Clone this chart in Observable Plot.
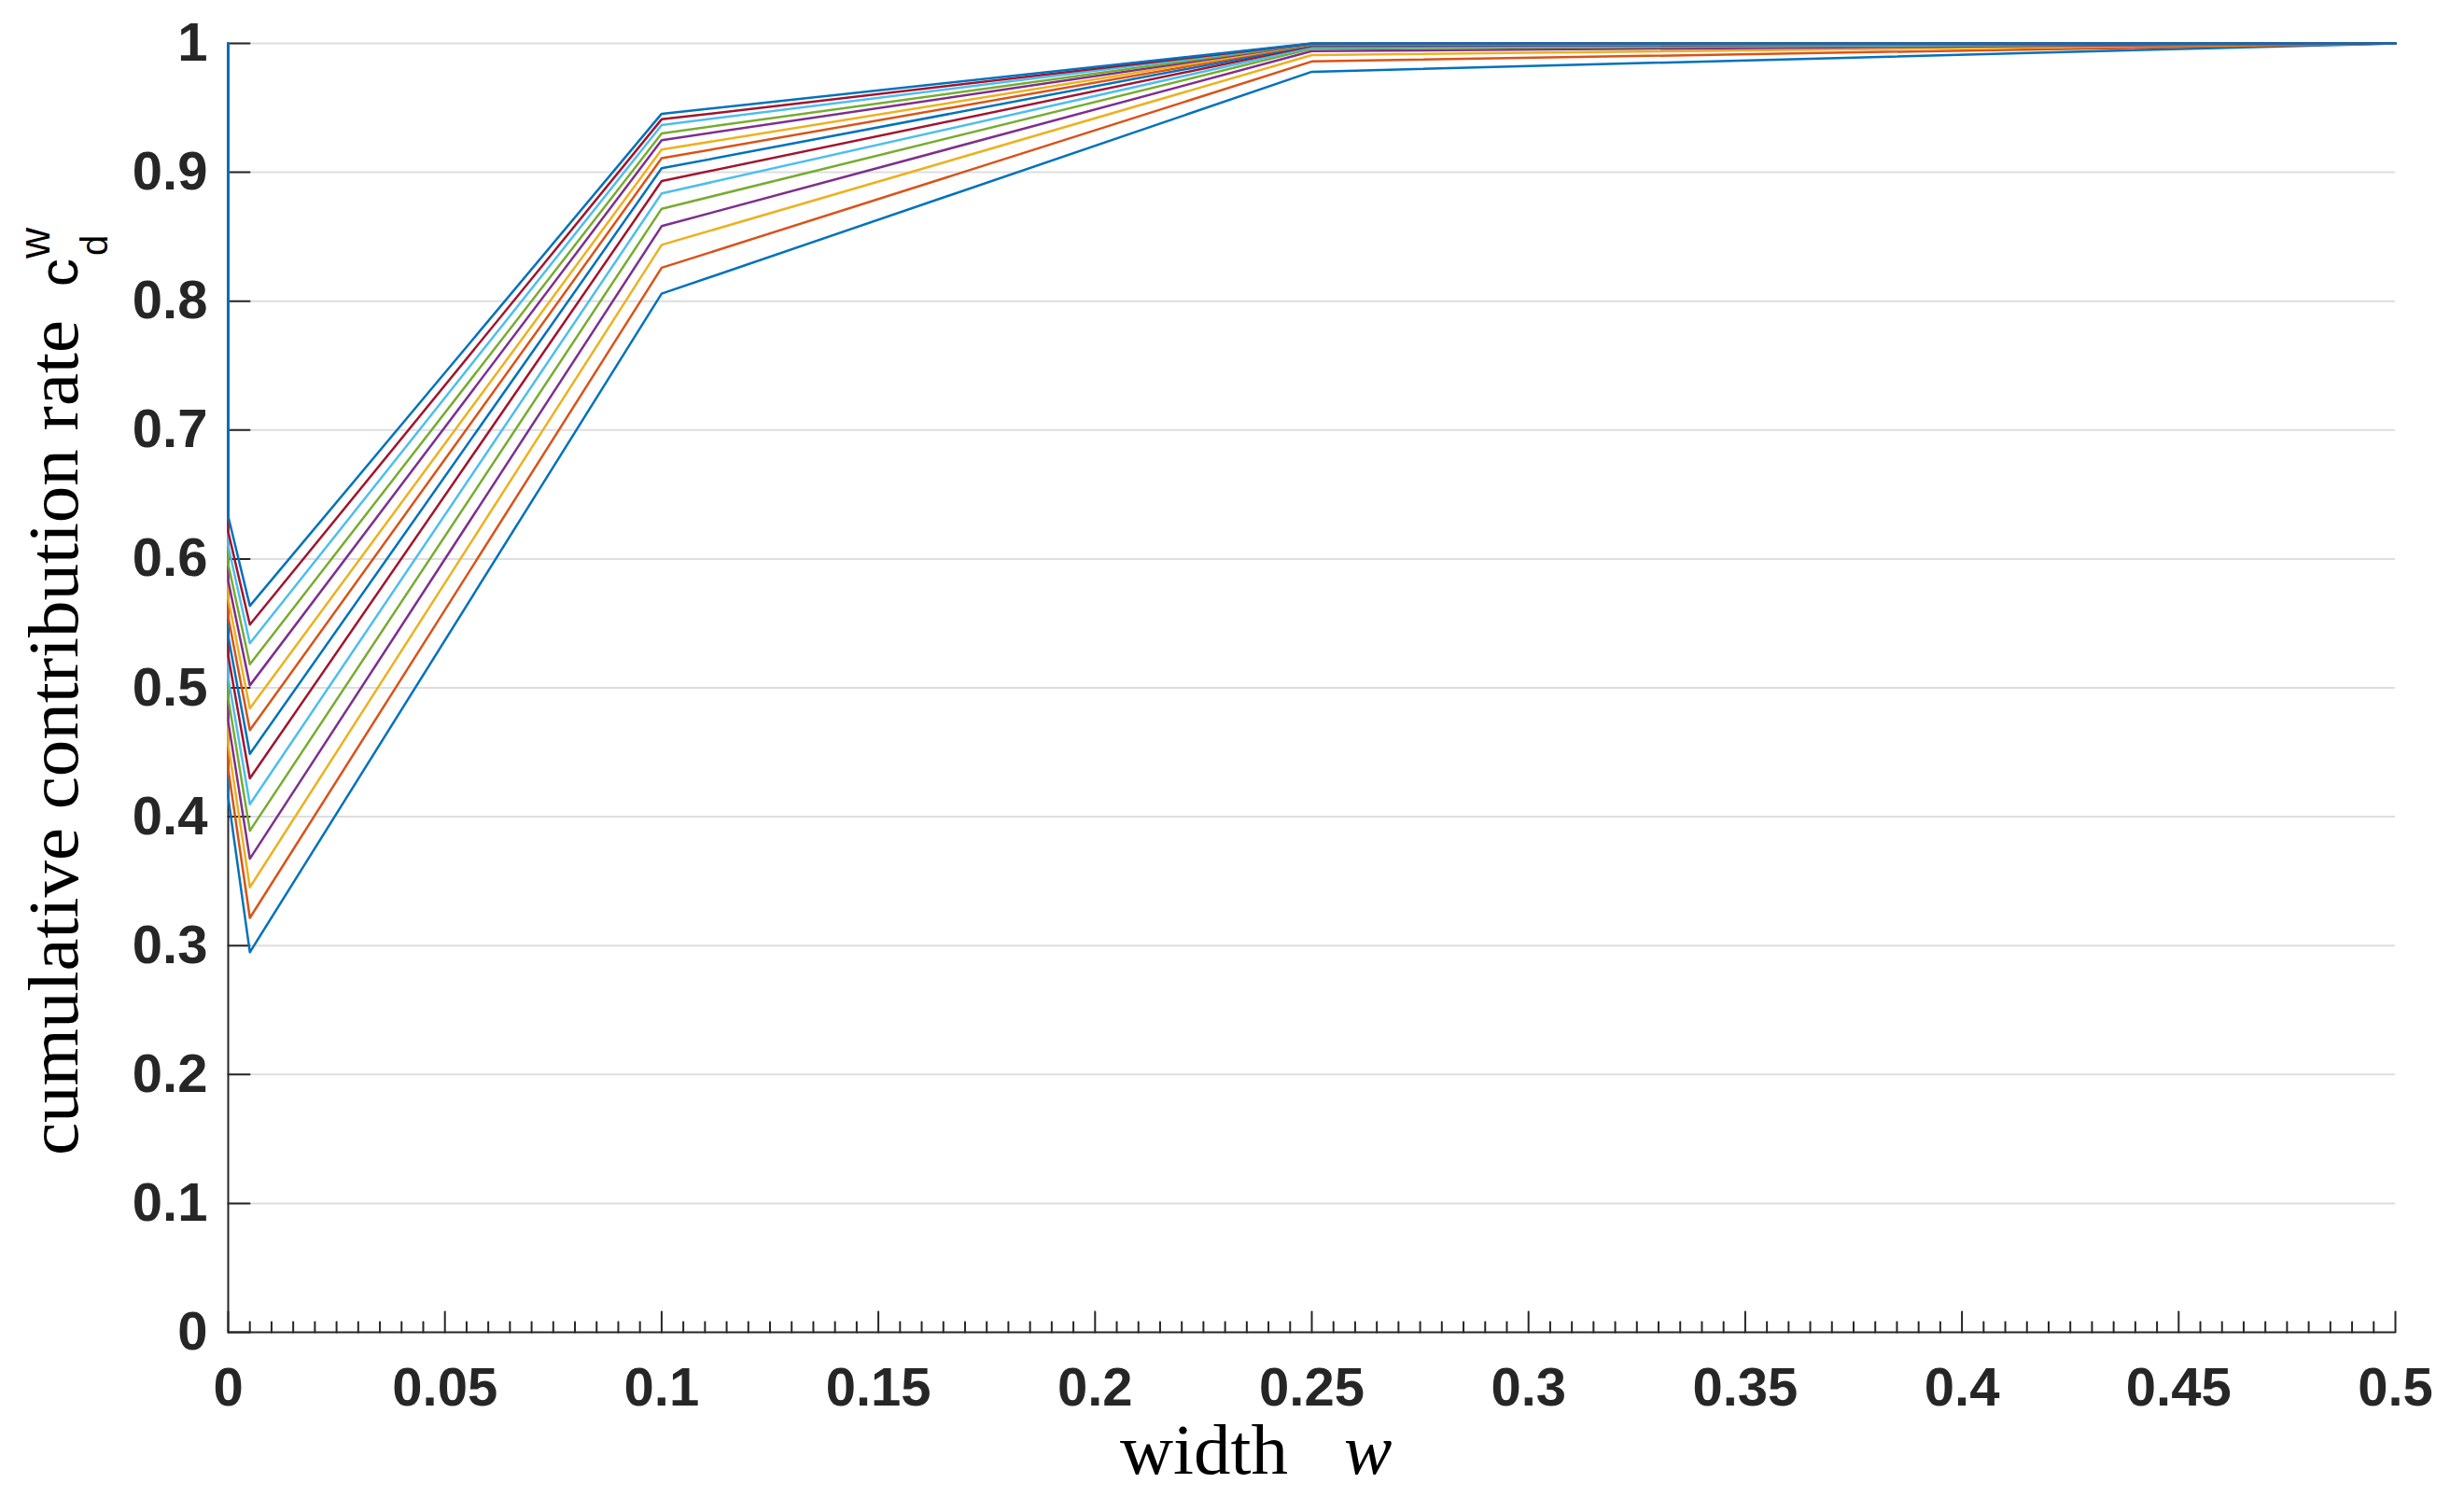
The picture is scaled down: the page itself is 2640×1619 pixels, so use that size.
<!DOCTYPE html>
<html>
<head>
<meta charset="utf-8">
<script src="https://cdn.jsdelivr.net/npm/d3@7"></script>
<script src="https://cdn.jsdelivr.net/npm/@observablehq/plot@0.6"></script>
<style>
  html, body { margin: 0; padding: 0; background: #ffffff; }
  #chart svg { display: block; }
</style>
</head>
<body>
<div id="chart"></div>
<script>
// ---- data (series ordered bottom -> top) ----
// each series starts at (0, 1), drops along the axis to (0, start value), then continues
const widths = [0, 0, 0.005, 0.1, 0.25, 0.5];
const seriesNames = ["s1","s2","s3","s4","s5","s6","s7","s8","s9","s10","s11","s12","s13","s14","s15"];
const seriesColors = ["#0072BD","#D95319","#EDB120","#7E2F8E","#77AC30","#4DBEEE","#A2142F",
                      "#0072BD","#D95319","#EDB120","#7E2F8E","#77AC30","#4DBEEE","#A2142F","#0072BD"];
const rateAtW0Top  = [1, 1, 1, 1, 1, 1, 1, 1, 1, 1, 1, 1, 1, 1, 1];
const rateAtW0     = [0.415, 0.437, 0.456, 0.474, 0.492, 0.508, 0.525, 0.540,
                      0.555, 0.569, 0.583, 0.596, 0.610, 0.621, 0.633];
const rateAtW0005  = [0.2949, 0.3215, 0.3452, 0.3674, 0.3891, 0.4097, 0.4297, 0.4488,
                      0.4672, 0.4841, 0.5019, 0.5183, 0.5346, 0.5491, 0.5636];
const rateAtW01    = [0.8058, 0.8259, 0.8437, 0.8582, 0.8717, 0.8836, 0.8932, 0.9031,
                      0.9109, 0.9176, 0.9249, 0.9302, 0.9367, 0.9411, 0.9454];
const rateAtW025   = [0.978, 0.986, 0.991, 0.994, 0.996, 0.997, 0.998, 0.9985,
                      0.999, 0.9993, 0.9995, 0.9997, 0.9998, 0.9999, 1.0];
const rateAtW05    = [1, 1, 1, 1, 1, 1, 1, 1, 1, 1, 1, 1, 1, 1, 1];

const xTicks = [0, 0.05, 0.1, 0.15, 0.2, 0.25, 0.3, 0.35, 0.4, 0.45, 0.5];
const xTickLabels = ["0","0.05","0.1","0.15","0.2","0.25","0.3","0.35","0.4","0.45","0.5"];
const yTicks = [0, 0.1, 0.2, 0.3, 0.4, 0.5, 0.6, 0.7, 0.8, 0.9, 1];
const yTickLabels = ["0","0.1","0.2","0.3","0.4","0.5","0.6","0.7","0.8","0.9","1"];
const xMinorTicks = d3.range(0, 101).map(i => i * 0.005).filter((v, i) => i % 10 !== 0);

// ---- build table ----
const columns = [rateAtW0Top, rateAtW0, rateAtW0005, rateAtW01, rateAtW025, rateAtW05];
const table = [];
seriesNames.forEach((s, i) => {
  widths.forEach((w, j) => table.push({series: s, w, rate: columns[j][i]}));
});

const xLabelOf = new Map(xTicks.map((v, i) => [v, xTickLabels[i]]));
const yLabelOf = new Map(yTicks.map((v, i) => [v, yTickLabels[i]]));
const tickShape = {draw(ctx, l) { ctx.moveTo(0, 0); ctx.lineTo(0, -l); }};
const axisColor = "#262626";

const plot = Plot.plot({
  width: 2640,
  height: 1619,
  marginLeft: 244,
  marginRight: 74,
  marginTop: 46,
  marginBottom: 192,
  style: {fontFamily: "'Liberation Sans', Arial, sans-serif", background: "#ffffff", color: axisColor},
  x: {domain: [0, 0.5]},
  y: {domain: [0, 1]},
  color: {domain: seriesNames, range: seriesColors},
  marks: [
    Plot.gridY(yTicks.slice(1), {stroke: "#dedede", strokeOpacity: 1, strokeWidth: 2}),
    Plot.ruleX([0], {stroke: axisColor, strokeWidth: 2}),
    Plot.ruleY([0], {stroke: axisColor, strokeWidth: 2}),
    Plot.vector(xTicks, {x: d => d, frameAnchor: "bottom", length: 22, anchor: "start", shape: tickShape, stroke: axisColor, strokeWidth: 2}),
    Plot.vector(xMinorTicks, {x: d => d, frameAnchor: "bottom", length: 11, anchor: "start", shape: tickShape, stroke: axisColor, strokeWidth: 2}),
    Plot.vector(yTicks, {y: d => d, frameAnchor: "left", length: 23, rotate: 90, anchor: "start", shape: tickShape, stroke: axisColor, strokeWidth: 2}),
    Plot.axisX(xTicks, {tickSize: 0, tickPadding: 37, fontSize: 58, fontWeight: "bold", tickFormat: d => xLabelOf.get(d), label: null, fill: axisColor}),
    Plot.axisY(yTicks, {tickSize: 0, tickPadding: 22, fontSize: 58, fontWeight: "bold", tickFormat: d => yLabelOf.get(d), label: null, fill: axisColor}),
    Plot.line(table, {x: "w", y: "rate", z: "series", stroke: "series", strokeWidth: 2.5, curve: "linear"})
  ]
});

// ---- axis titles ----
const svg = d3.select(plot);
const gY = svg.append("g").attr("transform", "rotate(-90)").attr("fill", "#000");
gY.append("text").attr("x", -1238).attr("y", 83)
  .attr("font-family", "'Liberation Serif', 'Times New Roman', serif").attr("font-size", 77)
  .attr("text-anchor", "start").attr("textLength", 895).attr("lengthAdjust", "spacingAndGlyphs")
  .text("cumulative contribution rate");
gY.append("text").attr("x", -307).attr("y", 83)
  .attr("font-family", "'Liberation Sans', Arial, sans-serif").attr("font-size", 60)
  .attr("text-anchor", "start").text("c");
gY.append("text").attr("x", -274).attr("y", 115)
  .attr("font-family", "'Liberation Sans', Arial, sans-serif").attr("font-size", 40)
  .attr("text-anchor", "start").text("d");
gY.append("text").attr("x", -277).attr("y", 53)
  .attr("font-family", "'Liberation Sans', Arial, sans-serif").attr("font-size", 46)
  .attr("text-anchor", "start").text("w");

const gX = svg.append("g").attr("fill", "#000");
gX.append("text").attr("x", 1200).attr("y", 1579)
  .attr("font-family", "'Liberation Serif', 'Times New Roman', serif").attr("font-size", 77)
  .attr("text-anchor", "start").attr("textLength", 180).attr("lengthAdjust", "spacingAndGlyphs")
  .text("width");
gX.append("text").attr("x", 1440).attr("y", 1579)
  .attr("font-family", "'Liberation Serif', 'Times New Roman', serif").attr("font-size", 77)
  .attr("font-style", "italic").attr("text-anchor", "start")
  .text("w");

document.getElementById("chart").append(plot);
</script>
</body>
</html>
